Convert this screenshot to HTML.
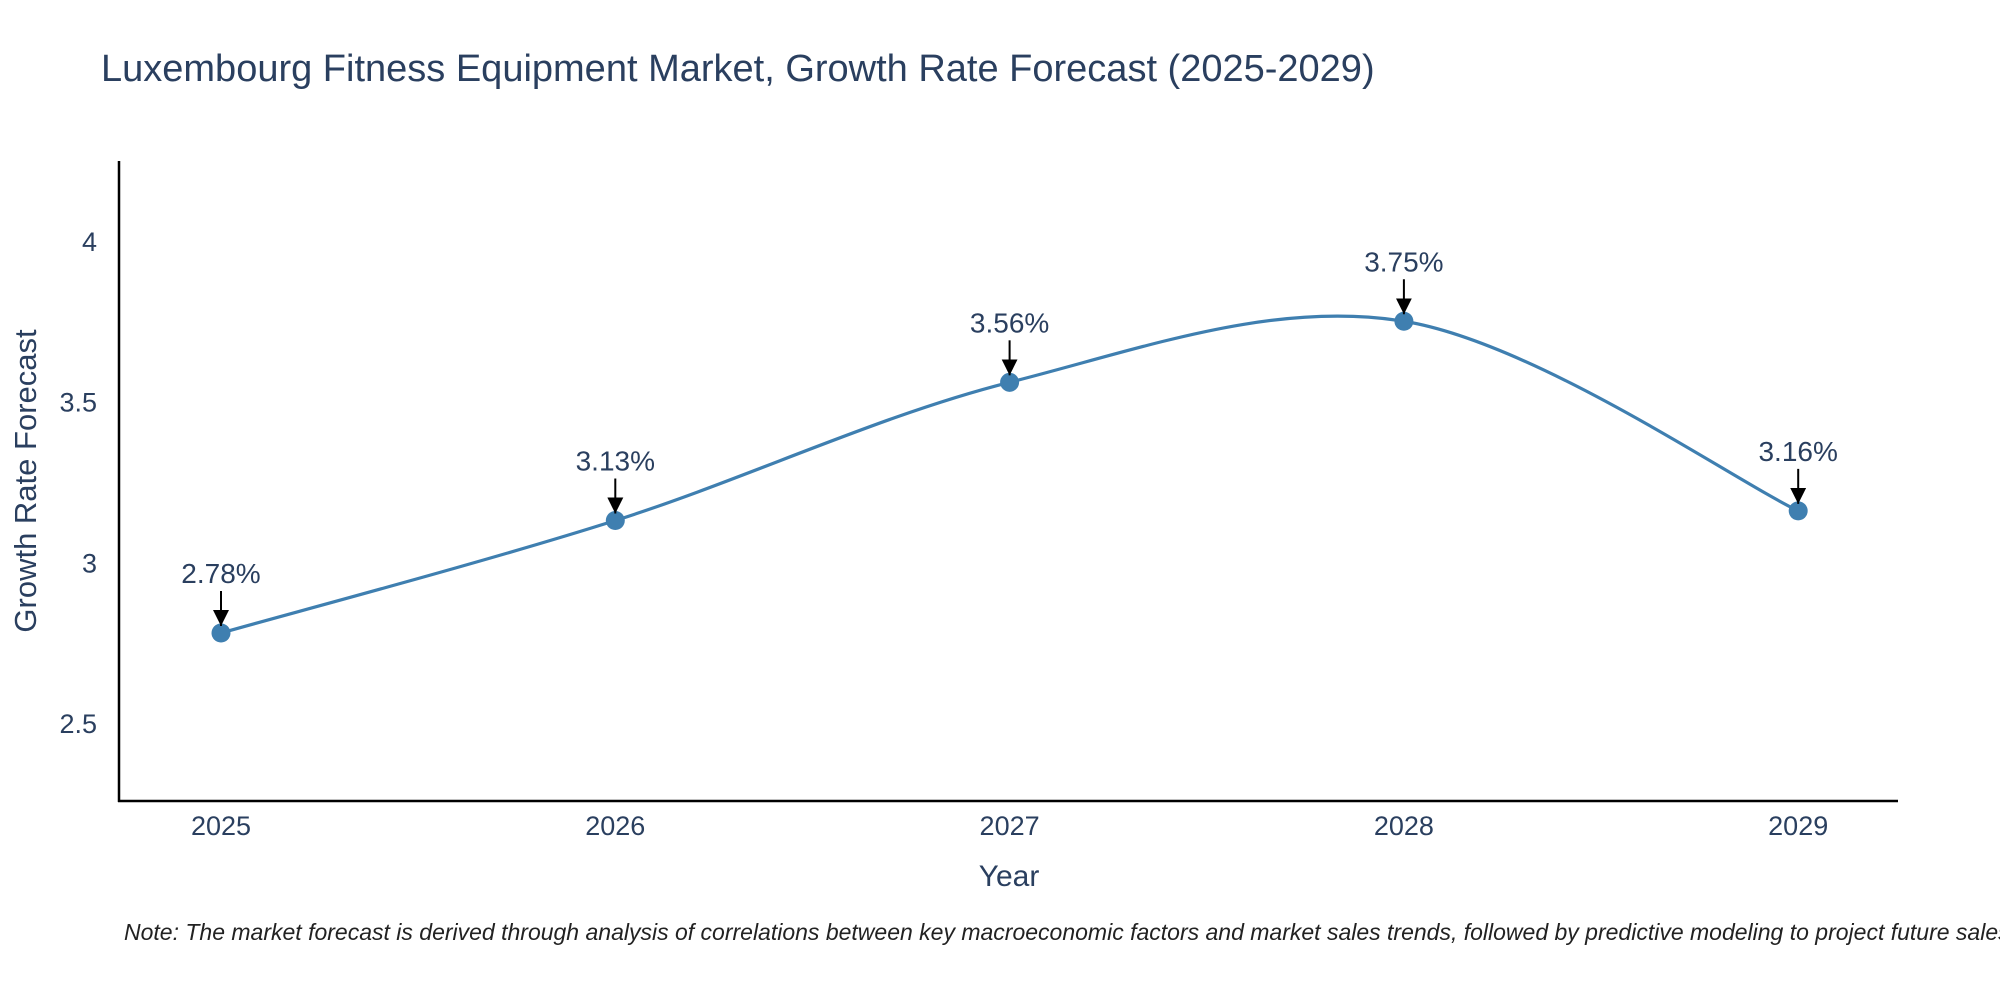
<!DOCTYPE html>
<html><head><meta charset="utf-8"><style>
body{margin:0;background:#fff;font-family:"Liberation Sans",sans-serif;overflow:hidden;}
svg text{font-family:"Liberation Sans",sans-serif;}
</style></head><body>
<svg id="chart" width="2000" height="1000" xmlns="http://www.w3.org/2000/svg">
<defs><marker id="ah" viewBox="0 0 10 10" refX="10" refY="5" markerWidth="16" markerHeight="16" markerUnits="userSpaceOnUse" orient="auto"><path d="M0,0 L10,5 L0,10 z" fill="#000"/></marker></defs>
<text x="101" y="81" font-size="38" fill="#2a3f5f">Luxembourg Fitness Equipment Market, Growth Rate Forecast (2025-2029)</text>
<g id="plot"></g>
<text x="1009" y="886" font-size="30" fill="#2a3f5f" text-anchor="middle">Year</text>
<text transform="translate(36,481) rotate(-90)" font-size="31" fill="#2a3f5f" text-anchor="middle">Growth Rate Forecast</text>
<text x="124" y="940" font-size="23" font-style="italic" fill="#222">Note: The market forecast is derived through analysis of correlations between key macroeconomic factors and market sales trends, followed by predictive modeling to project future sales.</text>
</svg>
<script>
const years = [2025, 2026, 2027, 2028, 2029];
const values = [2.78, 3.13, 3.56, 3.75, 3.16];
const yTicks = [2.5, 3, 3.5, 4];
const NS = "http://www.w3.org/2000/svg";
const g = document.getElementById('plot');
const X0=119, X1=1898, Y0=801, Y1=161;
const xs = y => 221 + (y-2025)*394.3;
const ys = v => 723 - (v-2.5)*321.4;
function mk(tag, attrs, txt){const e=document.createElementNS(NS,tag);for(const k in attrs)e.setAttribute(k,attrs[k]);if(txt!=null)e.textContent=txt;g.appendChild(e);return e;}
let e;
e=mk('line',{x1:X0,y1:Y1,x2:X0,y2:Y0+1,stroke:'#000','stroke-width':2.5});


e=mk('line',{x1:X0-1,y1:Y0,x2:X1,y2:Y0,stroke:'#000','stroke-width':2.5});


yTicks.forEach(t=>{
  e=mk('text',{x:X0-22,y:ys(t)+10,'font-size':27,fill:'#2a3f5f','text-anchor':'end'},String(t));
  
  
});
years.forEach(y=>{
  e=mk('text',{x:xs(y),y:835,'font-size':27,fill:'#2a3f5f','text-anchor':'middle'},String(y));
  
  
});
const P = years.map((y,i)=>[xs(y),ys(values[i])]);
let d = `M${P[0][0]},${P[0][1]}`;
const s=1/6;
for(let i=0;i<P.length-1;i++){
  const p0=P[Math.max(i-1,0)],p1=P[i],p2=P[i+1],p3=P[Math.min(i+2,P.length-1)];
  const c1=[p1[0]+(p2[0]-p0[0])*s,p1[1]+(p2[1]-p0[1])*s];
  const c2=[p2[0]-(p3[0]-p1[0])*s,p2[1]-(p3[1]-p1[1])*s];
  d+=` C${c1[0]},${c1[1]} ${c2[0]},${c2[1]} ${p2[0]},${p2[1]}`;
}
e=mk('path',{d:d,fill:'none',stroke:'#3f7fb0','stroke-width':3.2});


P.forEach((p,i)=>{
  e=mk('circle',{cx:p[0],cy:p[1],r:9.5,fill:'#3f7fb0'});
  
  
  e=mk('line',{x1:p[0],y1:p[1]-42,x2:p[0],y2:p[1]-7,stroke:'#000','stroke-width':2,'marker-end':'url(#ah)'});
  
  
  e=mk('text',{x:p[0],y:p[1]-50,'font-size':28,fill:'#2a3f5f','text-anchor':'middle'},values[i].toFixed(2)+'%');
  
  
});
</script>
</body></html>
